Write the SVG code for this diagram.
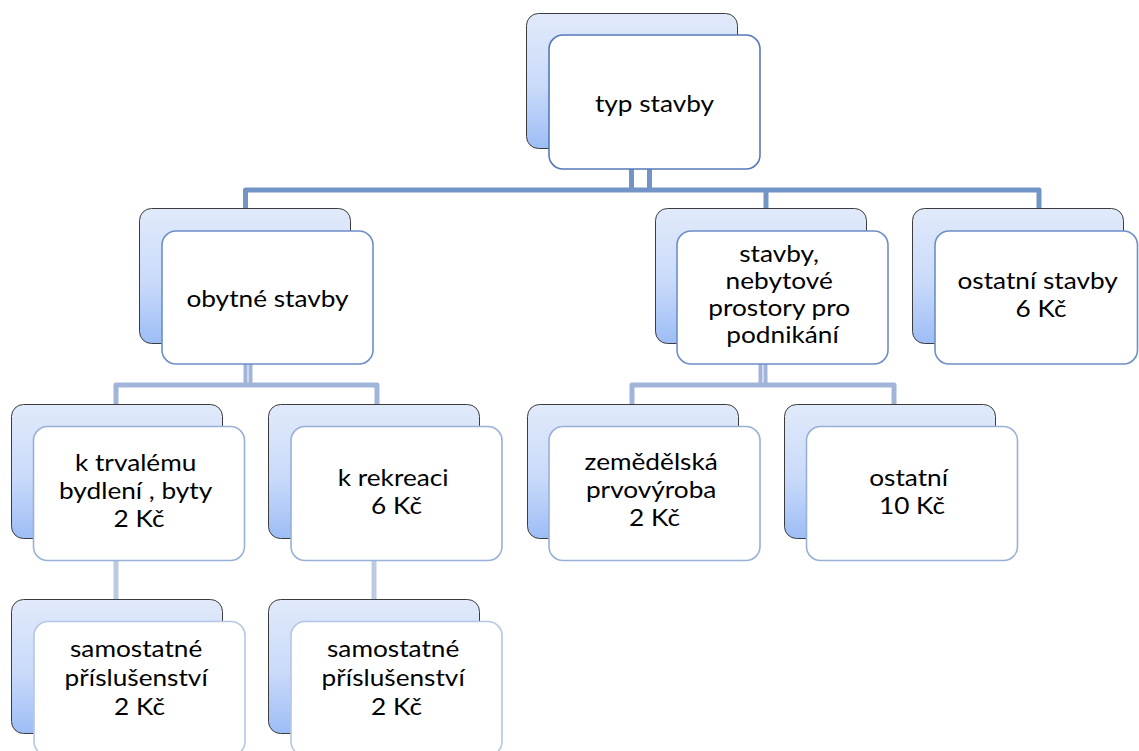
<svg xmlns="http://www.w3.org/2000/svg" width="1139" height="751" viewBox="0 0 1139 751">
  <defs>
    <linearGradient id="backFill" x1="0" y1="0" x2="0" y2="1">
      <stop offset="0" stop-color="#e1eafa"/>
      <stop offset="0.55" stop-color="#c9dafa"/>
      <stop offset="1" stop-color="#9dbdf6"/>
    </linearGradient>
  </defs>
  <style>
    .back { fill: url(#backFill); stroke: #3c3c3c; stroke-width: 1; }
    .front { fill: #ffffff; stroke-width: 1.6; }
    .f1 { stroke: #5579b8; }
    .f2 { stroke: #6d8fc7; }
    .f3 { stroke: #99b0d7; }
    .f4 { stroke: #b5c6e3; }
    .c1 { fill: none; stroke: #7394c6; stroke-width: 5; stroke-linejoin: round; }
    .c2 { fill: none; stroke: #a0b5d9; stroke-width: 5; stroke-linejoin: round; }
    .c2n { fill: none; stroke: #a0b5d9; stroke-width: 4; }
    .c3 { fill: none; stroke: #bccbe4; stroke-width: 5; }
    .lbl { font-family: Lato, "Liberation Sans", sans-serif; font-size: 23px; fill: #000000; text-anchor: middle; }
  </style>

  <!-- connectors -->
  <g id="connectors">
    <!-- root to first level -->
    <path class="c1" d="M631.5,150 V190"/>
    <path class="c1" d="M649.5,150 V190"/>
    <path class="c1" d="M245.5,209 V190 H1039 V209"/>
    <path class="c1" d="M766,190 V209"/>
    <!-- obytné stavby to children -->
    <path class="c2n" d="M245.5,345 V385"/>
    <path class="c2n" d="M250.5,345 V385"/>
    <path class="c2" d="M116,405 V385 H377 V405"/>
    <!-- nebytové prostory to children -->
    <path class="c2n" d="M760.5,345 V385"/>
    <path class="c2n" d="M765.5,345 V385"/>
    <path class="c2" d="M632,405 V385 H894 V405"/>
    <!-- third level -->
    <path class="c3" d="M116,540 V600"/>
    <path class="c3" d="M374,540 V600"/>
  </g>

  <g id="node-typ-stavby">
    <rect class="back" x="526.5" y="13.5" width="211" height="135" rx="12"/>
    <rect class="front f1" x="549" y="35" width="211" height="134" rx="14"/>
    <text class="lbl" transform="translate(654.5 0) scale(1.14 1)"><tspan x="0" y="112">typ stavby</tspan></text>
  </g>

  <g id="node-obytne">
    <rect class="back" x="139.5" y="208.5" width="211" height="135" rx="12"/>
    <rect class="front f2" x="162" y="231" width="211" height="133" rx="14"/>
    <text class="lbl" transform="translate(267.5 0) scale(1.14 1)"><tspan x="0" y="307">obytné stavby</tspan></text>
  </g>

  <g id="node-nebytove">
    <rect class="back" x="655.5" y="208.5" width="211" height="135" rx="12"/>
    <rect class="front f2" x="677" y="231" width="211" height="133" rx="14"/>
    <text class="lbl" transform="translate(782.5 0) scale(1.14 1)">
      <tspan x="0" y="262">stavby,</tspan>
      <tspan x="0" y="289">nebytové</tspan>
      <tspan x="0" y="316">prostory pro</tspan>
      <tspan x="0" y="343">podnikání</tspan>
    </text>
  </g>

  <g id="node-ostatni-stavby">
    <rect class="back" x="912.5" y="208.5" width="211" height="135" rx="12"/>
    <rect class="front f2" x="935" y="231" width="202.5" height="133" rx="14"/>
    <text class="lbl" transform="translate(1041 0) scale(1.14 1)">
      <tspan x="0" y="289">ostatní stavby</tspan>
      <tspan x="0" y="317">6 Kč</tspan>
    </text>
  </g>

  <g id="node-trvale-bydleni">
    <rect class="back" x="11.5" y="404.5" width="211" height="134" rx="12"/>
    <rect class="front f3" x="33.5" y="426.5" width="211" height="134" rx="14"/>
    <text class="lbl" transform="translate(139 0) scale(1.14 1)">
      <tspan x="0" y="471">k trvalému</tspan>
      <tspan x="0" y="499">bydlení , byty</tspan>
      <tspan x="0" y="527">2 Kč</tspan>
    </text>
  </g>

  <g id="node-rekreace">
    <rect class="back" x="268.5" y="404.5" width="211" height="134" rx="12"/>
    <rect class="front f3" x="291" y="426.5" width="211" height="134" rx="14"/>
    <text class="lbl" transform="translate(396.5 0) scale(1.14 1)">
      <tspan x="0" y="486">k rekreaci</tspan>
      <tspan x="0" y="514">6 Kč</tspan>
    </text>
  </g>

  <g id="node-zemedelska">
    <rect class="back" x="527.5" y="404.5" width="211" height="134" rx="12"/>
    <rect class="front f3" x="549" y="426.5" width="211" height="134" rx="14"/>
    <text class="lbl" transform="translate(654.5 0) scale(1.14 1)">
      <tspan x="0" y="470">zemědělská</tspan>
      <tspan x="0" y="498">prvovýroba</tspan>
      <tspan x="0" y="526">2 Kč</tspan>
    </text>
  </g>

  <g id="node-ostatni">
    <rect class="back" x="784.5" y="404.5" width="211" height="134" rx="12"/>
    <rect class="front f3" x="806.5" y="426.5" width="211" height="134" rx="14"/>
    <text class="lbl" transform="translate(912 0) scale(1.14 1)">
      <tspan x="0" y="486">ostatní</tspan>
      <tspan x="0" y="514">10 Kč</tspan>
    </text>
  </g>

  <g id="node-prislusenstvi-1">
    <rect class="back" x="11.5" y="599.5" width="211" height="134" rx="12"/>
    <rect class="front f4" x="34" y="621.5" width="211" height="134" rx="14"/>
    <text class="lbl" transform="translate(139.5 0) scale(1.14 1)">
      <tspan x="0" y="657">samostatné</tspan>
      <tspan x="0" y="686">příslušenství</tspan>
      <tspan x="0" y="715">2 Kč</tspan>
    </text>
  </g>

  <g id="node-prislusenstvi-2">
    <rect class="back" x="268.5" y="599.5" width="211" height="134" rx="12"/>
    <rect class="front f4" x="291" y="621.5" width="211" height="134" rx="14"/>
    <text class="lbl" transform="translate(396.5 0) scale(1.14 1)">
      <tspan x="0" y="657">samostatné</tspan>
      <tspan x="0" y="686">příslušenství</tspan>
      <tspan x="0" y="715">2 Kč</tspan>
    </text>
  </g>
</svg>
